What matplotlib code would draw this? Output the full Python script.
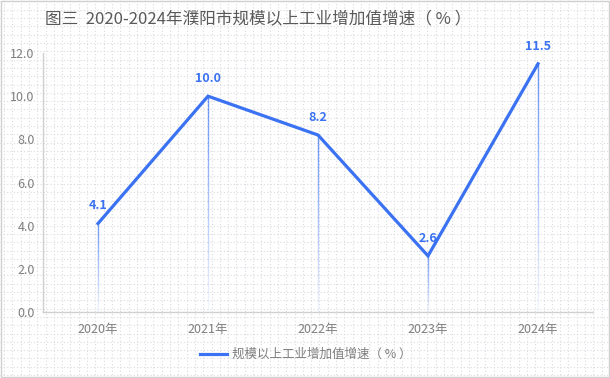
import numpy as np
import matplotlib
matplotlib.use('Agg')
import matplotlib.pyplot as plt
from matplotlib.collections import LineCollection

plt.rcParams['font.family'] = ['Noto Sans CJK SC', 'DejaVu Sans']

years = ['2020年', '2021年', '2022年', '2023年', '2024年']
growth = [4.1, 10.0, 8.2, 2.6, 11.5]
title = '图三  2020-2024年濮阳市规模以上工业增加值增速（ % ）'
series_name = '规模以上工业增加值增速（ % ）'

blue = '#3a72f2'
grey_txt = '#7f7f7f'

fig = plt.figure(figsize=(6.1, 3.78), dpi=100)

# dotted paper background
bg = fig.add_axes([0, 0, 1, 1], zorder=0)
bg.set_xlim(0, 610)
bg.set_ylim(0, 378)
bg.axis('off')
for gx in np.arange(4, 610, 8.3):
    bg.axvline(gx, color='#dadae2', lw=0.8, ls=(0, (1, 2)))
for gy in np.arange(3, 378, 8.3):
    bg.axhline(gy, color='#dadae2', lw=0.8, ls=(0, (1, 2)))
fig.patches.append(plt.Rectangle((0.001, 0.002), 0.997, 0.996, transform=fig.transFigure,
                                 fill=False, edgecolor='#d0d0d0', lw=1))

ax = fig.add_axes([43 / 610, 66 / 378, 550 / 610, 259 / 378], zorder=1)
ax.patch.set_alpha(0)
x = np.arange(len(years))

# fading drop lines
for xi, yi in zip(x, growth):
    ys = np.linspace(yi, 0, 60)
    segs = [[(xi, ys[k]), (xi, ys[k + 1])] for k in range(len(ys) - 1)]
    alphas = np.linspace(0.8, 0.05, len(segs))
    cols = [matplotlib.colors.to_rgba(blue, a) for a in alphas]
    ax.add_collection(LineCollection(segs, colors=cols, linewidths=1.0, zorder=2))

ax.plot(x, growth, color=blue, lw=2.3, solid_joinstyle='miter', zorder=3, label=series_name)
for xi, yi in zip(x, growth):
    ax.annotate(f'{yi:.1f}', (xi, yi), xytext=(0, 8), textcoords='offset points',
                ha='center', va='bottom', color=blue, fontsize=9, fontweight='bold')

ax.set_xlim(-0.5, 4.5)
ax.set_ylim(0, 12)
ax.set_yticks(np.arange(0, 12.1, 2))
ax.set_yticklabels([f'{v:.1f}' for v in np.arange(0, 12.1, 2)])
ax.set_xticks(x)
ax.set_xticklabels(years)
ax.tick_params(axis='both', length=0, labelsize=9, labelcolor=grey_txt)
ax.tick_params(axis='x', pad=8)
ax.tick_params(axis='y', pad=6)
for s in ['top', 'right']:
    ax.spines[s].set_visible(False)
for s in ['left', 'bottom']:
    ax.spines[s].set_color('#d0d0d0')
    ax.spines[s].set_linewidth(1)

fig.text(258 / 610, 1 - 20 / 378, title, ha='center', va='center', fontsize=12, color='#595959')

leg = ax.legend(loc='center', bbox_to_anchor=(0.478, -0.165), frameon=False, fontsize=9,
                handlelength=2.2, handletextpad=0.4)
for t in leg.get_texts():
    t.set_color(grey_txt)

fig.savefig('out.png', dpi=100)
